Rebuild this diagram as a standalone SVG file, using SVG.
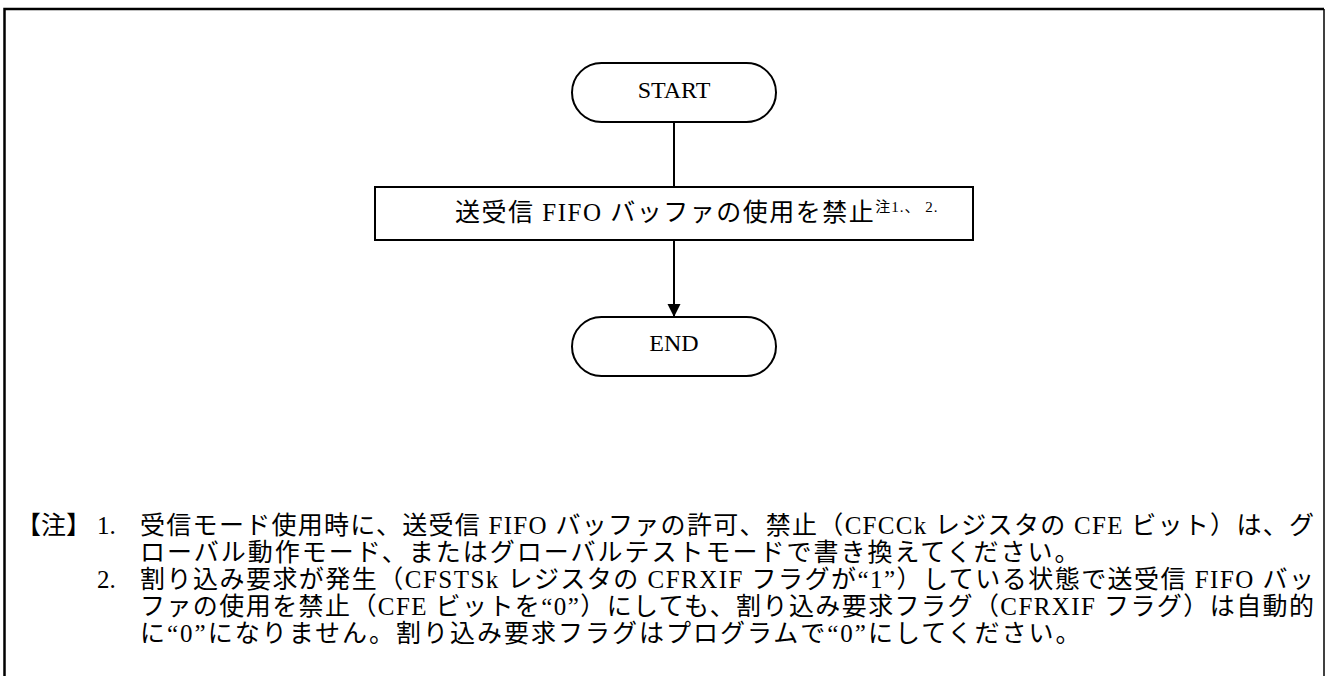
<svg xmlns="http://www.w3.org/2000/svg" width="1326" height="676" viewBox="0 0 1326 676">
<defs>
<style>
.shape{fill:#fff;stroke:#000;stroke-width:2}
.lbl{font-family:"Liberation Serif","Noto Sans CJK JP",serif;font-size:24px;fill:#000;text-anchor:middle}
.jp{font-family:"Liberation Serif","Noto Sans CJK JP",serif;font-size:25px;fill:#000}
.sup{font-family:"Liberation Serif","Noto Sans CJK JP",serif;font-size:15px;fill:#000}
.conn{stroke:#000;stroke-width:2;fill:none}
</style>
<marker id="arr" markerWidth="14" markerHeight="14" refX="13" refY="7" orient="auto" markerUnits="userSpaceOnUse">
<path d="M0,0.5 L13,7 L0,13.5 Z" fill="#000"/>
</marker>
</defs>
<rect width="1326" height="676" fill="#fff"/>
<g id="frame">
<path d="M4.5,680 V9 H1324" fill="none" stroke="#000" stroke-width="2.5"/>
<path d="M1324,9 V680" fill="none" stroke="#000" stroke-width="1.5"/>
</g>
<g id="connectors">
<line class="conn" x1="674" y1="122" x2="674" y2="187"/>
<line class="conn" x1="674" y1="240" x2="674" y2="317" marker-end="url(#arr)"/>
</g>
<g id="start">
<rect class="shape" x="572" y="63" width="204" height="59" rx="29.5" ry="29.5"/>
<text class="lbl" x="674" y="98">START</text>
</g>
<g id="process">
<rect class="shape" x="375" y="187" width="598" height="53"/>
<text class="jp" x="455" y="221" letter-spacing="1.5">送受信 FIFO バッファの使用を禁止<tspan class="sup" dy="-9" letter-spacing="1">注1.、 2.</tspan></text>
</g>
<g id="end">
<rect class="shape" x="572" y="317" width="204" height="59" rx="29.5" ry="29.5"/>
<text class="lbl" x="674" y="351">END</text>
</g>
<g id="notes">
<text class="jp" x="16" y="534">【注】</text>
<text class="jp" x="97" y="534">1.</text>
<text class="jp" x="140" y="534" textLength="1174" lengthAdjust="spacing">受信モード使用時に、送受信 FIFO バッファの許可、禁止（CFCCk レジスタの CFE ビット）は、グ</text>
<text class="jp" x="140" y="561" letter-spacing="2">ローバル動作モード、またはグローバルテストモードで書き換えてください。</text>
<text class="jp" x="97" y="588">2.</text>
<text class="jp" x="140" y="588" textLength="1174" lengthAdjust="spacing">割り込み要求が発生（CFSTSk レジスタの CFRXIF フラグが“1”）している状態で送受信 FIFO バッ</text>
<text class="jp" x="140" y="615" textLength="1174" lengthAdjust="spacing">ファの使用を禁止（CFE ビットを“0”）にしても、割り込み要求フラグ（CFRXIF フラグ）は自動的</text>
<text class="jp" x="140" y="642" letter-spacing="2">に“0”になりません。割り込み要求フラグはプログラムで“0”にしてください。</text>
</g>
</svg>
